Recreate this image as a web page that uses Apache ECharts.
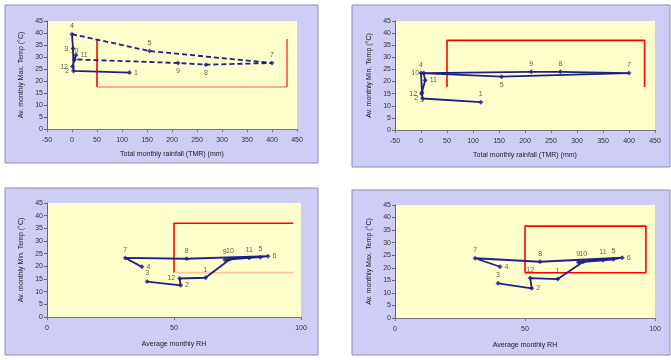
<!DOCTYPE html>
<html>
<head>
<meta charset="utf-8">
<script src="https://cdn.jsdelivr.net/npm/echarts@6.0.0/dist/echarts.min.js"></script>
<style>
  html, body { margin: 0; padding: 0; background: #ffffff; }
  #chart { width: 671px; height: 360px; }
</style>
</head>
<body>
<div id="chart"></div>
<script>
// Monthly climate record: rainfall panels (months in calendar order)
const months = ['1', '2', '3', '4', '5', '7', '8', '9', '10', '11', '12'];
const rainfall = [115, 3, 2, 0, 155, 400, 268, 212, 5, 8, 1];
const maxTemp = [23.5, 24.2, 33.5, 39.5, 32.5, 27.5, 26.8, 27.5, 29, 30.8, 26];
const minTemp = [11.5, 13, 15.5, 23.5, 22, 23.5, 24, 24, 23.5, 20.5, 15];

// Relative-humidity panels (points listed in drawing order)
const rhMonthsA = ['3', '2', '12', '1', '10', '9', '11', '5', '6', '8', '7', '4'];
const rhA = [39.4, 52.6, 52.2, 62.4, 72, 70, 79.6, 84, 87, 55, 30.8, 37.4];
const tempRhA = [14, 12.5, 15.2, 15.5, 22.8, 22.6, 23.3, 23.6, 24, 23, 23.3, 19.8];

const rhMonthsB = ['3', '2', '12', '1', '10', '9', '11', '5', '6', '8', '7', '4'];
const rhB = [39.6, 52.6, 52, 62.6, 72.4, 70.5, 80, 84, 87.4, 55.8, 30.8, 40.4];
const tempRhB = [13.8, 11.8, 15.9, 15.5, 22.4, 22.2, 23, 23.4, 24, 22.4, 23.8, 20.4];

// Comfort-range boxes [low, high]
const boxRainMaxX = [50, 430], boxRainMaxY = [17.5, 37.5];
const boxRainMinX = [50, 430], boxRainMinY = [17.8, 37];
const boxRhAX = [50, 97], boxRhAY = [17.5, 37];
const boxRhBX = [50, 96.5], boxRhBY = [18, 36.6];

// Axis ticks
const rainTicks = { min: -50, max: 450, step: 50 };
const rhTicks = { min: 0, max: 100, step: 50 };
const tempTicks = { min: 0, max: 45, step: 5 };

const NAVY = '#1f1f88';
const RED = '#ff0000';
const LIGHT_RED = '#f89070';
const FONT = 'Liberation Sans';

// label placement for each point
const posRainMax = ['right', 'left', 'left', 'top', 'top', 'top', 'bottom', 'bottom', 'top', 'right', 'left'];
const posRainMin = ['top', 'left', 'bottom', 'top', 'bottom', 'top', 'top', 'top', 'left', 'right', 'left'];
const posRhA = ['top', 'right', 'left', 'top', 'top', 'top', 'top', 'top', 'right', 'top', 'top', 'right'];
const posRhB = ['top', 'right', 'top', 'top', 'top', 'top', 'top', 'top', 'right', 'top', 'top', 'right'];

const grids = [
  { left: 47, top: 21, width: 250, height: 108 },
  { left: 395, top: 21, width: 260, height: 109 },
  { left: 47, top: 203, width: 254, height: 114 },
  { left: 395, top: 205, width: 260, height: 113 }
].map(g => Object.assign({ show: true, backgroundColor: '#ffffcc', borderWidth: 0 }, g));

const xNameGaps = [22, 22, 24, 24];

function xAxisOf(i, t, name) {
  return {
    gridIndex: i, type: 'value', min: t.min, max: t.max, interval: t.step,
    name: name, nameLocation: 'middle', nameGap: xNameGaps[i],
    nameTextStyle: { fontSize: 7, color: '#222', fontFamily: FONT },
    axisLine: { onZero: false, lineStyle: { color: '#777', width: 1 } },
    axisTick: { show: true, length: 3, inside: false, lineStyle: { color: '#777' } },
    axisLabel: { fontSize: 7, color: '#333', margin: 8, fontFamily: FONT },
    splitLine: { show: false }
  };
}
function yAxisOf(i, name) {
  return {
    gridIndex: i, type: 'value', min: tempTicks.min, max: tempTicks.max, interval: tempTicks.step,
    name: name, nameLocation: 'middle', nameGap: 22, nameRotate: 90,
    nameTextStyle: { fontSize: 7, color: '#222', fontFamily: FONT },
    axisLine: { show: true, onZero: false, lineStyle: { color: '#666', width: 1 } },
    axisTick: { show: true, length: 3, lineStyle: { color: '#666' } },
    axisLabel: { fontSize: 7, color: '#333', margin: 4, fontFamily: FONT },
    splitLine: { show: false }
  };
}

function pairs(xs, ys) { return xs.map((x, i) => [x, ys[i]]); }
function part(xs, ys, keep) { return xs.map((x, i) => keep(i) ? [x, ys[i]] : [x, '-']); }

function pathSeries(i, data, dashed) {
  return {
    type: 'line', xAxisIndex: i, yAxisIndex: i, data: data,
    showSymbol: false, symbol: 'none', connectNulls: false, silent: true, z: 3,
    lineStyle: { color: NAVY, width: 1.8, type: dashed ? [5, 3] : 'solid' },
    animation: false
  };
}
function pointSeries(i, xs, ys, labels, pos) {
  return {
    type: 'scatter', xAxisIndex: i, yAxisIndex: i, symbol: 'diamond', symbolSize: 5, z: 4,
    itemStyle: { color: NAVY },
    data: xs.map((x, k) => ({ value: [x, ys[k]], label: { position: pos[k] } })),
    label: {
      show: true, fontSize: 7, color: '#333', distance: 2, fontFamily: FONT,
      formatter: p => labels[p.dataIndex]
    },
    animation: false
  };
}
function boxSide(i, pts, color) {
  return {
    type: 'line', xAxisIndex: i, yAxisIndex: i, data: pts, symbol: 'none', silent: true, z: 2,
    lineStyle: { color: color, width: 1.6 }, animation: false
  };
}

const series = [];
// Panel 1: max temperature vs rainfall
series.push(pathSeries(0, part(rainfall, maxTemp, k => k <= 3 || k >= 8), false));
series.push(pathSeries(0, part(rainfall, maxTemp, k => k >= 3 && k <= 8), true));
series.push(boxSide(0, [[boxRainMaxX[0], boxRainMaxY[1]], [boxRainMaxX[0], boxRainMaxY[0]]], RED));
series.push(boxSide(0, [[boxRainMaxX[0], boxRainMaxY[0]], [boxRainMaxX[1], boxRainMaxY[0]]], LIGHT_RED));
series.push(boxSide(0, [[boxRainMaxX[1], boxRainMaxY[0]], [boxRainMaxX[1], boxRainMaxY[1]]], '#f85050'));
series.push(pointSeries(0, rainfall, maxTemp, months, posRainMax));
// Panel 2: min temperature vs rainfall
series.push(pathSeries(1, pairs(rainfall, minTemp), false));
series.push(boxSide(1, [[boxRainMinX[0], boxRainMinY[0]], [boxRainMinX[0], boxRainMinY[1]], [boxRainMinX[1], boxRainMinY[1]], [boxRainMinX[1], boxRainMinY[0]]], RED));
series.push(pointSeries(1, rainfall, minTemp, months, posRainMin));
// Panel 3: temperature vs relative humidity
series.push(pathSeries(2, pairs(rhA, tempRhA), false));
series.push(boxSide(2, [[boxRhAX[0], boxRhAY[0]], [boxRhAX[0], boxRhAY[1]], [boxRhAX[1], boxRhAY[1]]], RED));
series.push(boxSide(2, [[boxRhAX[0], boxRhAY[0]], [boxRhAX[1], boxRhAY[0]]], '#f9c8a0'));
series.push(pointSeries(2, rhA, tempRhA, rhMonthsA, posRhA));
// Panel 4: temperature vs relative humidity
series.push(pathSeries(3, pairs(rhB, tempRhB), false));
series.push(boxSide(3, [[boxRhBX[0], boxRhBY[0]], [boxRhBX[0], boxRhBY[1]], [boxRhBX[1], boxRhBY[1]], [boxRhBX[1], boxRhBY[0]], [boxRhBX[0], boxRhBY[0]]], RED));
series.push(pointSeries(3, rhB, tempRhB, rhMonthsB, posRhB));

// Lavender chart-area frames behind each plot
const frames = [
  { x: 5, y: 5, w: 313, h: 158 },
  { x: 352, y: 5, w: 318, h: 162 },
  { x: 5, y: 188, w: 313, h: 167 },
  { x: 352, y: 190, w: 318, h: 165 }
];

const chart = echarts.init(document.getElementById('chart'), null, { renderer: 'canvas' });
chart.setOption({
  animation: false,
  backgroundColor: '#ffffff',
  graphic: frames.map(f => ({
    type: 'rect', z: -10, silent: true,
    shape: { x: f.x, y: f.y, width: f.w, height: f.h },
    style: { fill: '#cdcdf6', stroke: '#8c8cb4', lineWidth: 1 }
  })),
  grid: grids,
  xAxis: [
    xAxisOf(0, rainTicks, 'Total monthly rainfall (TMR) (mm)'),
    xAxisOf(1, rainTicks, 'Total monthly rainfall (TMR) (mm)'),
    xAxisOf(2, rhTicks, 'Average monthly RH'),
    xAxisOf(3, rhTicks, 'Average monthly RH')
  ],
  yAxis: [
    yAxisOf(0, 'Av. monthly Max. Temp (°C)'),
    yAxisOf(1, 'Av. monthly Min. Temp (°C)'),
    yAxisOf(2, 'Av. monthly Min. Temp (°C)'),
    yAxisOf(3, 'Av. monthly Max. Temp (°C)')
  ],
  series: series
});
</script>
</body>
</html>
